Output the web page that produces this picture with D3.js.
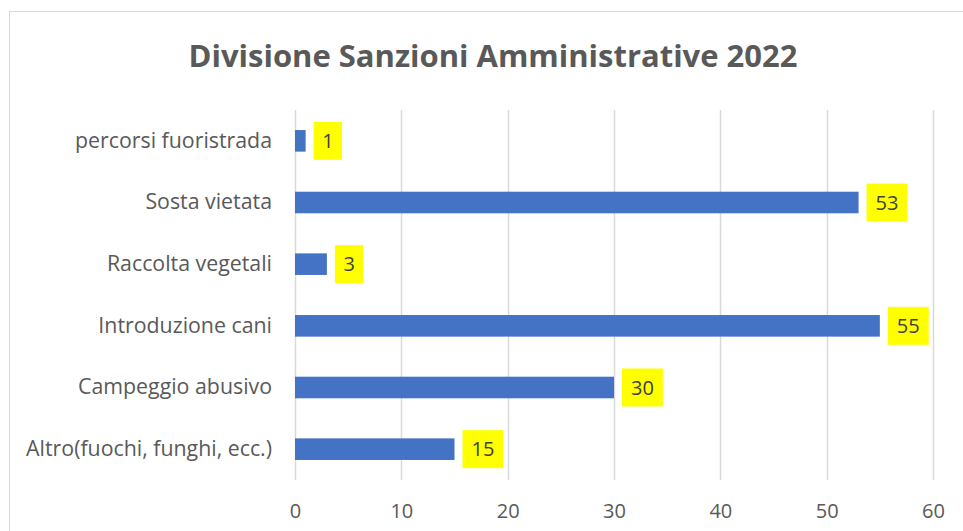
<!DOCTYPE html>
<html>
<head>
<meta charset="utf-8">
<script src="https://cdn.jsdelivr.net/npm/d3@7"></script>
<style>
  html, body { margin: 0; padding: 0; background: #fff; }
  svg { display: block; }
</style>
</head>
<body>
<svg id="chart" width="963" height="531"></svg>
<script>
// Data, top to bottom
const categories = [
  "percorsi fuoristrada",
  "Sosta vietata",
  "Raccolta vegetali",
  "Introduzione cani",
  "Campeggio abusivo",
  "Altro(fuochi, funghi, ecc.)"
];
const values = [1, 53, 3, 55, 30, 15];
const xTicks = [0, 10, 20, 30, 40, 50, 60];
const title = "Divisione Sanzioni Amministrative 2022";

const W = 963, H = 531;
const svg = d3.select("#chart");
const font = "'Open Sans', 'Noto Sans', sans-serif";
const textColor = "#595959";

// Chart frame
svg.append("rect")
  .attr("x", 9.5).attr("y", 11.5)
  .attr("width", W + 20).attr("height", H + 20)
  .attr("fill", "#fff").attr("stroke", "#d9d9d9").attr("stroke-width", 1);

// Title
const titleEl = svg.append("text")
  .attr("x", 493).attr("y", 67)
  .attr("text-anchor", "middle")
  .attr("font-family", font).attr("font-weight", "bold")
  .attr("font-size", 26).attr("fill", textColor)
  .text(title);
const tw = titleEl.node().getComputedTextLength();
titleEl.attr("font-size", 26 * 609 / tw);

const plot = { left: 295, right: 933, top: 110, bottom: 480 };

const x = d3.scaleLinear().domain([0, 60]).range([plot.left, plot.right]);
const y = d3.scaleBand().domain(categories).range([plot.top, plot.bottom]).paddingInner(0.65).paddingOuter(0.325);

// Vertical gridlines
svg.append("g").selectAll("line").data(xTicks).join("line")
  .attr("x1", d => Math.round(x(d)) + 0.5).attr("x2", d => Math.round(x(d)) + 0.5)
  .attr("y1", plot.top).attr("y2", plot.bottom)
  .attr("stroke", "#d9d9d9").attr("stroke-width", 1.5);

// X axis tick labels
const xAxis = svg.append("g")
  .attr("transform", `translate(0,${plot.bottom})`)
  .call(d3.axisBottom(x).tickValues(xTicks).tickSize(0).tickPadding(24));
xAxis.select(".domain").remove();
xAxis.selectAll("text")
  .attr("font-family", font).attr("font-size", 20).attr("fill", textColor);

// Y axis category labels
const yAxis = svg.append("g")
  .attr("transform", `translate(${plot.left},0)`)
  .call(d3.axisLeft(y).tickSize(0).tickPadding(23));
yAxis.select(".domain").remove();
const yText = yAxis.selectAll("text")
  .attr("font-family", font).attr("font-size", 19).attr("fill", textColor)
  .attr("dy", "0.32em");
// size the labels so the longest one spans the left margin
const longest = d3.max(yText.nodes(), n => n.getComputedTextLength());
yText.attr("font-size", 19 * 246 / longest);

// Bars
const rows = categories.map((c, i) => ({ c, v: values[i] }));
svg.append("g").selectAll("rect").data(rows).join("rect")
  .attr("x", x(0))
  .attr("y", d => y(d.c))
  .attr("width", d => x(d.v) - x(0))
  .attr("height", y.bandwidth())
  .attr("fill", "#4472c4");

// Value labels in yellow boxes
const lab = svg.append("g").selectAll("g").data(rows).join("g")
  .attr("transform", d => `translate(${x(d.v) + 8},${y(d.c) + y.bandwidth() / 2})`);
lab.append("rect").attr("fill", "#ffff00");
lab.append("text")
  .attr("font-family", font).attr("font-size", 20).attr("fill", "#404040")
  .attr("dy", "0.35em")
  .text(d => d.v)
  .each(function () {
    const w = this.getComputedTextLength();
    const padX = w < 14 ? 8.5 : 9;
    d3.select(this).attr("x", padX);
    d3.select(this.previousSibling)
      .attr("x", 0).attr("y", -19)
      .attr("width", w + 2 * padX).attr("height", 38);
  });
</script>
</body>
</html>
